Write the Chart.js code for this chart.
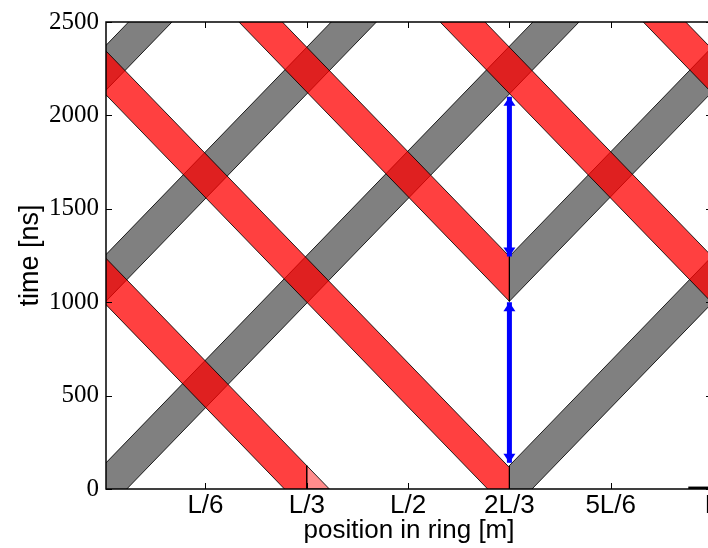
<!DOCTYPE html>
<html>
<head>
<meta charset="utf-8">
<script src="https://cdn.jsdelivr.net/npm/chart.js@4/dist/chart.umd.min.js"></script>
<style>
html, body { margin: 0; padding: 0; background: #fff; overflow: hidden; }
</style>
</head>
<body>
<canvas id="myChart" width="780" height="548"></canvas>
<script>
// x is the position in units of the ring length L, y is time in ns
var xTickValues = [1/6, 2/6, 3/6, 4/6, 5/6, 1];
var xTickLabels = ['L/6', 'L/3', 'L/2', '2L/3', '5L/6', 'L'];
var yTickValues = [0, 500, 1000, 1500, 2000, 2500];

// grey bunches (moving right), corners [x, t]
var greyA      = [[-0.1, -461], [0.9, 2899], [0.9, 3154], [-0.1, -206]];
var grey1      = [[0.6667, -125], [1.05, 1163], [1.05, 1413], [0.6667, 125]];
var grey1Wrap  = [[-0.05, 827], [0.5, 2675], [0.5, 2925], [-0.05, 1077]];
var grey2      = [[0.6667, 1005], [1.05, 2293], [1.05, 2533], [0.6667, 1245]];
var grey2Wrap  = [[-0.05, 1957], [0.2, 2797], [0.2, 3037], [-0.05, 2197]];

// red bunches (moving left)
var red1       = [[0.6667, -120], [-0.05, 2288], [-0.05, 2523], [0.6667, 115]];
var red1Wrap   = [[1.05, 1952], [0.8, 2792], [0.8, 3027], [1.05, 2187]];
var red2       = [[0.3333, -123], [-0.05, 1165], [-0.05, 1413], [0.3333, 125]];
var red2Wrap   = [[1.05, 829], [0.5, 2677], [0.5, 2925], [1.05, 1077]];
var red3       = [[0.6667, 1005], [0.1, 2909], [0.1, 3149], [0.6667, 1245]];
var red2Tail   = [[0.3333, 0], [0.3333, 125], [0.3705, 0]];

// sliver at the bottom right
var sliver     = [[0.961, 5], [1.0, 5]];

// blue arrows at 2L/3
var arrowLow   = [[0.6667, 140], [0.6667, 1000]];
var arrowHigh  = [[0.6667, 1245], [0.6667, 2100]];

var greyFill = '#808080';
var redFill = 'rgba(255, 0, 0, 0.75)';
var edge = 'rgba(0, 0, 0, 0.85)';

function pts(list, close) {
    var out = list.map(function(p){ return {x: p[0], y: p[1]}; });
    if (close) out.push({x: list[0][0], y: list[0][1]});
    return out;
}

function band(list, color) {
    return {
        data: pts(list, true),
        showLine: true,
        fill: 'shape',
        backgroundColor: color,
        borderColor: edge,
        borderWidth: 1,
        pointRadius: 0,
        tension: 0
    };
}

function arrow(list) {
    return {
        data: pts(list, false),
        showLine: true,
        fill: false,
        borderColor: '#0000ff',
        borderWidth: 5,
        pointRadius: 0,
        arrow: true
    };
}

var framePlugin = {
    id: 'frame',
    afterDatasetsDraw: function(chart) {
        var ctx = chart.ctx;
        // arrow heads, tip on the end point
        chart.data.datasets.forEach(function(ds, i) {
            if (!ds.arrow) return;
            var el = chart.getDatasetMeta(i).data;
            var a = el[0], b = el[el.length - 1];
            [[a, -1], [b, 1]].forEach(function(h) {
                var x = h[0].x, y = h[0].y, d = h[1];
                ctx.save();
                ctx.fillStyle = '#0000ff';
                ctx.beginPath();
                ctx.moveTo(x, y);
                ctx.lineTo(x - 6, y + d * 9);
                ctx.lineTo(x + 6, y + d * 9);
                ctx.closePath();
                ctx.fill();
                ctx.restore();
            });
        });
    },
    afterDraw: function(chart) {
        var ctx = chart.ctx, a = chart.chartArea;
        var xs = chart.scales.x, ys = chart.scales.y;
        ctx.save();
        ctx.strokeStyle = '#000';
        ctx.lineWidth = 1.5;
        ctx.strokeRect(a.left, a.top, a.right - a.left, a.bottom - a.top);
        ctx.lineWidth = 1;
        ctx.beginPath();
        xTickValues.forEach(function(v) {
            var px = Math.round(xs.getPixelForValue(v)) + 0.5;
            ctx.moveTo(px, a.bottom); ctx.lineTo(px, a.bottom - 6);
            ctx.moveTo(px, a.top); ctx.lineTo(px, a.top + 6);
        });
        yTickValues.forEach(function(v) {
            var py = Math.round(ys.getPixelForValue(v)) + 0.5;
            ctx.moveTo(a.left, py); ctx.lineTo(a.left + 6, py);
            ctx.moveTo(a.right, py); ctx.lineTo(a.right - 6, py);
        });
        ctx.stroke();
        ctx.restore();
    }
};

document.addEventListener('DOMContentLoaded', drawChart);

function drawChart() {
    var sliverSet = band(sliver, 'rgba(0,0,0,0)');
    sliverSet.fill = false;
    sliverSet.borderColor = '#000';
    sliverSet.borderWidth = 3;
    sliverSet.data = pts(sliver, false);

    var ctx = document.getElementById('myChart').getContext('2d');
    new Chart(ctx, {
        type: 'scatter',
        data: {
            datasets: [
                arrow(arrowLow),
                arrow(arrowHigh),
                band(red2Tail, 'rgba(255, 0, 0, 0.45)'),
                band(red1, redFill),
                band(red1Wrap, redFill),
                band(red2, redFill),
                band(red2Wrap, redFill),
                band(red3, redFill),
                sliverSet,
                band(greyA, greyFill),
                band(grey1, greyFill),
                band(grey1Wrap, greyFill),
                band(grey2, greyFill),
                band(grey2Wrap, greyFill)
            ]
        },
        options: {
            responsive: false,
            animation: false,
            layout: { padding: { top: 17, right: 68, left: 0, bottom: 0 } },
            plugins: { legend: { display: false }, tooltip: { enabled: false } },
            scales: {
                x: {
                    type: 'linear',
                    min: 0.003,
                    max: 1,
                    grid: { display: false, drawTicks: false },
                    border: { display: false },
                    afterBuildTicks: function(scale) {
                        scale.ticks = xTickValues.map(function(v){ return {value: v}; });
                    },
                    afterFit: function(scale) { scale.height = 59; },
                    ticks: {
                        padding: 1,
                        maxRotation: 0,
                        autoSkip: false,
                        color: '#000',
                        font: { family: 'Liberation Sans', size: 26 },
                        callback: function(v, i) { return xTickLabels[i]; }
                    },
                    title: {
                        display: true,
                        text: 'position in ring [m]',
                        color: '#000',
                        font: { family: 'Liberation Sans', size: 26 },
                        padding: { top: 0, bottom: 2 }
                    }
                },
                y: {
                    type: 'linear',
                    min: 0,
                    max: 2500,
                    grid: { display: false, drawTicks: false },
                    border: { display: false },
                    afterBuildTicks: function(scale) {
                        scale.ticks = yTickValues.map(function(v){ return {value: v}; });
                    },
                    afterFit: function(scale) { scale.width = 106; },
                    ticks: {
                        padding: 7,
                        color: '#000',
                        font: { family: 'Liberation Serif', size: 25 },
                        callback: function(v) { return String(v); }
                    },
                    title: {
                        display: true,
                        text: 'time [ns]',
                        color: '#000',
                        font: { family: 'Liberation Sans', size: 27 },
                        padding: { top: 14, bottom: 0 }
                    }
                }
            }
        },
        plugins: [framePlugin]
    });
}
</script>
</body>
</html>
